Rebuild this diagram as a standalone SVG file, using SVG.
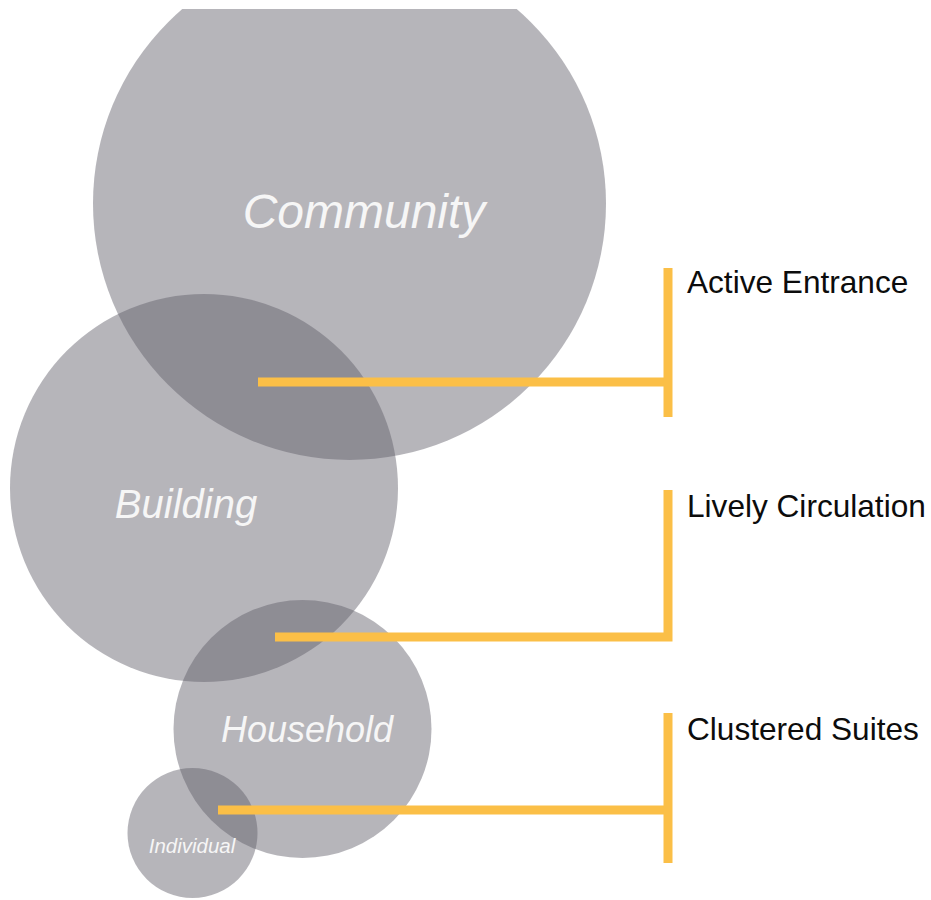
<svg xmlns="http://www.w3.org/2000/svg" width="931" height="900" viewBox="0 0 931 900">
  <style>
    .disc { fill: #5f5d69; fill-opacity: 0.46; }
    .scale { font-family: "Liberation Sans", Arial, sans-serif; font-style: italic; fill: #f6f6f6; text-anchor: middle; }
    .label { font-family: "Liberation Sans", Arial, sans-serif; fill: #0c0c0c; font-size: 31.6px; }
    .link { fill: none; stroke: #fbbf47; stroke-width: 9; stroke-linecap: butt; stroke-linejoin: miter; }
  </style>
  <defs>
    <clipPath id="page">
      <rect x="0" y="9" width="931" height="891"/>
    </clipPath>
  </defs>
  <rect width="931" height="900" fill="#ffffff"/>

  <g clip-path="url(#page)">
    <g id="community">
      <circle class="disc" cx="349.5" cy="203.5" r="256.5"/>
      <text class="scale" x="364" y="228" font-size="48">Community</text>
    </g>
    <g id="building">
      <circle class="disc" cx="204" cy="488" r="194"/>
      <text class="scale" x="186" y="518" font-size="40">Building</text>
    </g>
    <g id="household">
      <circle class="disc" cx="302.5" cy="729" r="129"/>
      <text class="scale" x="307" y="742" font-size="36">Household</text>
    </g>
    <g id="individual">
      <circle class="disc" cx="192.5" cy="833" r="65"/>
      <text class="scale" x="192" y="853" font-size="20.5">Individual</text>
    </g>
  </g>

  <g id="connectors">
    <path class="link" d="M258 382 H668"/>
    <path class="link" d="M668 268 V417"/>
    <path class="link" d="M275 637 H668 V490"/>
    <path class="link" d="M218 810 H668"/>
    <path class="link" d="M668 713 V863"/>
  </g>

  <g id="labels">
    <text class="label" x="687" y="293">Active Entrance</text>
    <text class="label" x="687" y="517">Lively Circulation</text>
    <text class="label" x="687" y="740">Clustered Suites</text>
  </g>
</svg>
